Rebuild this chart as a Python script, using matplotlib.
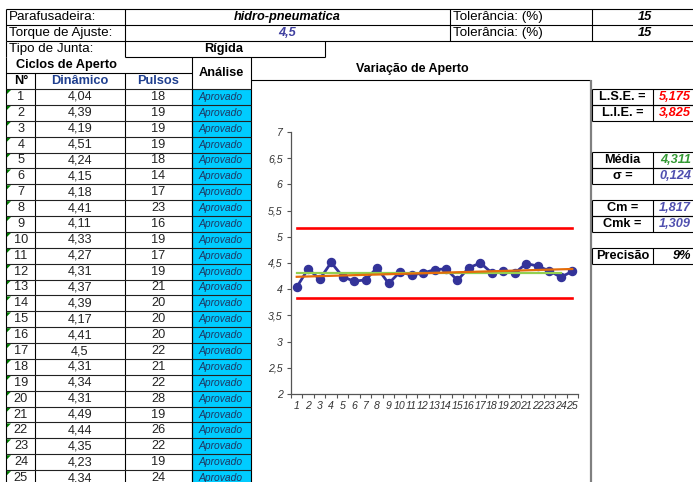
import numpy as np
import matplotlib.pyplot as plt
from matplotlib.patches import Rectangle, Polygon

plt.rcParams['font.family'] = ['Liberation Sans', 'DejaVu Sans']

# cabeçalho da planilha
parafusadeira = "hidro-pneumatica"
torque_ajuste = 4.5
tolerancias = [15, 15]
tipo_junta = "Rígida"

# ciclos de aperto
ciclos = list(range(1, 26))
dinamico = [4.04, 4.39, 4.19, 4.51, 4.24, 4.15, 4.18, 4.41, 4.11, 4.33, 4.27, 4.31, 4.37,
            4.39, 4.17, 4.41, 4.5, 4.31, 4.34, 4.31, 4.49, 4.44, 4.35, 4.23, 4.34]
pulsos = [18, 19, 19, 19, 18, 14, 17, 23, 16, 19, 17, 19, 21,
          20, 20, 20, 22, 21, 22, 28, 19, 26, 22, 19, 24]
analise = ["Aprovado"] * 25

# resultados
lse = 5.175
lie = 3.825
media = 4.311
sigma = 0.124
cm = 1.817
cmk = 1.309
precisao = 9

y_ticks = [2, 2.5, 3, 3.5, 4, 4.5, 5, 5.5, 6, 6.5, 7]


def virg(v, fmt='%g'):
    return (fmt % v).replace('.', ',')


W, H = 693, 482
fig = plt.figure(figsize=(W / 100, H / 100), dpi=100)
sh = fig.add_axes([0, 0, 1, 1])
sh.set_xlim(0, W)
sh.set_ylim(H, 0)
sh.axis('off')

LW = 0.8


def linha(x0, x1, y0, y1, cor='black', lw=LW):
    sh.plot([x0, x1], [y0, y1], color=cor, lw=lw, solid_capstyle='butt')


def txt(x, y, s, ha='left', size=9.6, **kw):
    sh.text(x, y, s, ha=ha, va='center', fontsize=size, **kw)


# colunas da tabela
xA, xB, xC, xD, xE = 6, 35, 125, 192, 251
azul_cab = '#1F3F8F'

# linhas 1 e 2 (parafusadeira / torque)
for y in [9, 25, 41]:
    linha(xA, W, y, y)
for x in [xA, xC, 450, 592]:
    linha(x, x, 9, 41)
txt(9, 17, "Parafusadeira:")
txt(287, 17, parafusadeira, ha='center', style='italic', weight='bold', size=9.2)
txt(453, 17, "Tolerância: (%)")
txt(645, 17, str(tolerancias[0]), ha='center', style='italic', weight='bold', size=9.2)
txt(9, 33, "Torque de Ajuste:")
txt(287, 33, virg(torque_ajuste), ha='center', style='italic', weight='bold', size=9.2,
    color='#4040A0')
txt(453, 33, "Tolerância: (%)")
txt(645, 33, str(tolerancias[1]), ha='center', style='italic', weight='bold', size=9.2)

# linha 3 (tipo de junta)
for x in [xA, xC, 325]:
    linha(x, x, 41, 57)
linha(xC, 325, 57, 57)
txt(9, 49, "Tipo de Junta:")
txt(224, 49, tipo_junta, ha='center', weight='bold', size=9.2)

# cabeçalhos da tabela de ciclos
linha(xA, xA, 57, H)
linha(xA, xD, 73, 73)
linha(xB, xB, 73, H)
linha(xC, xC, 73, H)
linha(xD, xD, 57, H)
linha(xE, xE, 57, H)
txt(66, 65, "Ciclos de Aperto", ha='center', weight='bold', size=9.2)
txt(21, 81, "N°", ha='center', weight='bold', size=9.2)
txt(80, 81, "Dinâmico", ha='center', weight='bold', size=9.2, color=azul_cab)
txt(158, 81, "Pulsos", ha='center', weight='bold', size=9.2, color=azul_cab)
txt(221, 73, "Análise", ha='center', weight='bold', size=9.2)

# linhas de dados
y0, h = 89, 15.88
for i, n in enumerate(ciclos):
    yt = y0 + i * h
    yc = yt + h / 2
    sh.add_patch(Rectangle((xD, yt), xE - xD, h, facecolor='#00CCFF', edgecolor='none'))
    sh.add_patch(Polygon([(xA + 1, yt + 1), (xA + 5, yt + 1), (xA + 1, yt + 5)],
                         closed=True, facecolor='#008000', edgecolor='none'))
    txt(21, yc, str(n), ha='center', size=9.2, color='#222222')
    txt(80, yc, virg(dinamico[i]), ha='center', size=9.2, color='#222222')
    txt(158, yc, str(pulsos[i]), ha='center', size=9.2, color='#222222')
    txt(221, yc, analise[i], ha='center', size=7.4, style='italic', color='#1F3864')
for i in range(len(ciclos) + 1):
    yt = y0 + i * h
    linha(xA, xE, yt, yt, cor='#222222')
linha(xD, xD, 89, H)

# moldura do gráfico
linha(xE, 591, 80, 80)
linha(591, 591, 80, H, cor='#808080', lw=1.6)
sh.text(412, 69, "Variação de Aperto", ha='center', va='center', fontsize=9, weight='bold')

# quadro de resultados à direita
resultados = [
    ("L.S.E. =", virg(lse, '%.3f'), '#FF0000', 89),
    ("L.I.E. =", virg(lie, '%.3f'), '#FF0000', 105),
    ("Média", virg(media, '%.3f'), '#339933', 152),
    ("σ =", virg(sigma, '%.3f'), '#5050B0', 168),
    ("Cm =", virg(cm, '%.3f'), '#5050B0', 200),
    ("Cmk =", virg(cmk, '%.3f'), '#5050B0', 216),
    ("Precisão", "%d%%" % precisao, '#000000', 248),
]
for rot, val, cor, yt in resultados:
    linha(592, W, yt, yt)
    linha(592, W, yt + 16, yt + 16)
    linha(592, 592, yt, yt + 16)
    linha(653, 653, yt, yt + 16)
    txt(622.5, yt + 8, rot, ha='center', weight='bold', size=9.2)
    txt(691, yt + 8, val, ha='right', weight='bold', style='italic', size=9.2, color=cor)

# gráfico de variação
ax = fig.add_axes([291 / W, (H - 394) / H, (578 - 291) / W, (394 - 132) / H])
ax.plot(ciclos, dinamico, color='#333399', lw=2, marker='o', ms=5.8, zorder=3)
ax.plot([ciclos[0], ciclos[-1]], [lse, lse], color='#FF0000', lw=1.9, zorder=4)
ax.plot([ciclos[0], ciclos[-1]], [lie, lie], color='#FF0000', lw=1.9, zorder=4)
ax.plot(ciclos[:-1], [media] * (len(ciclos) - 1), color='#92D050', lw=1.6, zorder=5)
coef = np.polyfit(ciclos, dinamico, 1)
ax.plot(ciclos, np.polyval(coef, ciclos), color='#E46C0A', lw=1.6, zorder=6)

ax.set_xlim(0.5, 25.5)
ax.set_ylim(2, 7)
ax.set_xticks(ciclos)
ax.set_xticklabels([str(c) for c in ciclos], fontsize=7.6, style='italic', color='#333333')
ax.set_xticks(np.arange(0.5, 26, 1), minor=True)
ax.set_yticks(y_ticks)
ax.set_yticklabels([virg(v) for v in y_ticks], fontsize=7.6, style='italic', color='#333333')
ax.tick_params(axis='x', which='major', length=0, pad=5)
ax.tick_params(axis='x', which='minor', length=3, width=0.8, color='#555555')
ax.tick_params(axis='y', length=3, width=0.8, color='#555555', pad=3)
for s in ['top', 'right']:
    ax.spines[s].set_visible(False)
for s in ['left', 'bottom']:
    ax.spines[s].set_color('#555555')
    ax.spines[s].set_linewidth(0.9)
ax.patch.set_alpha(0)

plt.savefig("out.png", dpi=100)
plt.close()
